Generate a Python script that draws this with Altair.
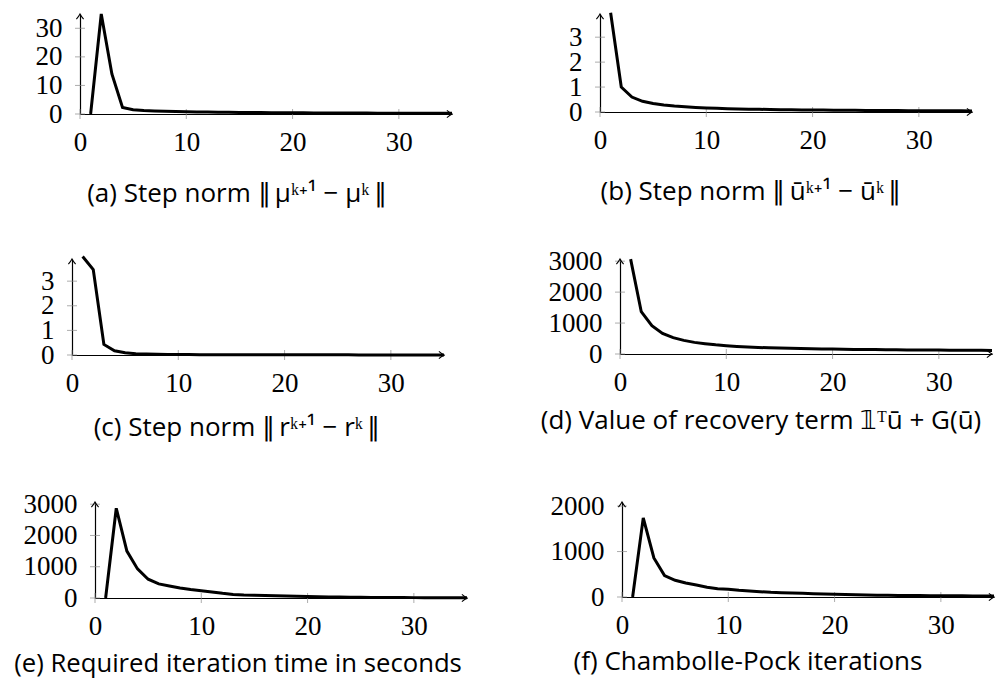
import altair as alt
import pandas as pd

# ---------------- data ----------------
ITER = list(range(1, 36))
X_TICKS = [0, 10, 20, 30]
X_MAX = 35

MU_STEP = [0, 35, 14, 2.3, 1.5, 1.2, 1.05, 0.95, 0.85, 0.78, 0.72, 0.66, 0.62, 0.58,
           0.55, 0.52, 0.49, 0.46, 0.44, 0.42, 0.40, 0.38, 0.36, 0.35, 0.33, 0.32,
           0.31, 0.30, 0.29, 0.28, 0.27, 0.26, 0.25, 0.25, 0.24]
UBAR_STEP = [3.98, 1.0, 0.6, 0.43, 0.34, 0.28, 0.24, 0.21, 0.185, 0.165, 0.15, 0.135,
             0.125, 0.115, 0.107, 0.10, 0.094, 0.089, 0.084, 0.08, 0.076, 0.072, 0.069,
             0.066, 0.063, 0.061, 0.058, 0.056, 0.054, 0.052, 0.05, 0.049, 0.047,
             0.046, 0.045]
R_STEP = [4.0, 3.47, 0.43, 0.17, 0.09, 0.055, 0.04, 0.03, 0.024, 0.02, 0.017, 0.015,
          0.013, 0.012, 0.011, 0.010, 0.009, 0.009, 0.008, 0.008, 0.007, 0.007, 0.007,
          0.006, 0.006, 0.006, 0.005, 0.005, 0.005, 0.005, 0.004, 0.004, 0.004,
          0.004, 0.004]
RECOVERY = [3065, 1366, 914, 667, 527, 441, 376, 333, 297, 269, 246, 226, 211, 200,
            190, 182, 175, 168, 163, 158, 153, 149, 145, 142, 139, 136, 133, 131, 128,
            126, 124, 122, 120, 118, 117]
ITER_TIME = [0, 2870, 1500, 930, 600, 450, 385, 320, 270, 235, 193, 150, 115, 96, 86,
             78, 75, 65, 55, 45, 40, 35, 31, 27, 23, 20, 18, 16, 14, 12, 10, 9, 8, 7, 6]
CP_ITERS = [0, 1740, 860, 470, 368, 309, 265, 213, 184, 169, 147, 132, 118, 103, 96,
            88, 81, 74, 66, 59, 55, 51, 46, 41, 37, 35, 33, 31, 30, 29, 27, 26, 24,
            23, 22]

CAPTIONS = [
    "(a) Step norm \u2225\u2009\u03bc\u1d4f\u207a\u00b9 \u2212 \u03bc\u1d4f\u2009\u2225",
    "(b) Step norm \u2225\u2009\u016b\u1d4f\u207a\u00b9 \u2212 \u016b\u1d4f\u2009\u2225",
    "(c) Step norm \u2225\u2009r\u1d4f\u207a\u00b9 \u2212 r\u1d4f\u2009\u2225",
    "(d) Value of recovery term \U0001D7D9\u1d40\u016b + G(\u016b)",
    "(e) Required iteration time in seconds",
    "(f) Chambolle-Pock iterations",
]

# ---------------- style ----------------
TICK_FONT = "Liberation Serif"
TICK_SIZE = 27
CAP_FONT = "Open Sans"
CAP_SIZE = 26
PLOT_W = 372


def panel(values, ymax, yticks, height, caption, dx, offset, cap_size=CAP_SIZE):
    df = pd.DataFrame({"x": ITER, "y": values})
    xs = alt.Scale(domain=[0, X_MAX], nice=False, zero=False)
    ys = alt.Scale(domain=[0, ymax], nice=False, zero=False)
    xaxis = alt.Axis(values=X_TICKS, ticks=False, grid=False, domainColor="black",
                     domainWidth=1.2, labelFont=TICK_FONT, labelFontSize=TICK_SIZE,
                     labelColor="black", labelPadding=15, title=None, format="d",
                     labelFlush=False, labelOverlap=False)
    yaxis = alt.Axis(values=yticks, ticks=False, grid=False, domainColor="black",
                     domainWidth=1.2, labelFont=TICK_FONT, labelFontSize=TICK_SIZE,
                     labelColor="black", labelPadding=18, title=None, format="d",
                     labelFlush=False, labelOverlap=False)
    ex = alt.X("x:Q", scale=xs, axis=xaxis)
    ey = alt.Y("y:Q", scale=ys, axis=yaxis)
    xt = alt.Chart(pd.DataFrame({"x": X_TICKS, "y": [0] * len(X_TICKS)})).mark_tick(
        orient="vertical", size=10, thickness=1, color="#8a8a8a"
    ).encode(x=ex, y=ey)
    yt = alt.Chart(pd.DataFrame({"x": [0] * len(yticks), "y": yticks})).mark_tick(
        orient="horizontal", size=10, thickness=1, color="#8a8a8a"
    ).encode(x=ex, y=ey)
    line = alt.Chart(df).mark_line(color="black", strokeWidth=3, clip=False).encode(
        x=ex, y=ey
    )
    arrow_path = "M -1.7 -1.2 Q -0.7 -0.35 0 0 Q -0.7 0.35 -1.7 1.2"
    xa = alt.Chart(pd.DataFrame({"x": [X_MAX], "y": [0]})).mark_point(
        shape=arrow_path, size=36, filled=False, color="black", strokeWidth=1.1, opacity=1
    ).encode(x=ex, y=ey)
    ya = alt.Chart(pd.DataFrame({"x": [0], "y": [ymax]})).mark_point(
        shape=arrow_path, size=36, filled=False, color="black", strokeWidth=1.1,
        opacity=1, angle=270
    ).encode(x=ex, y=ey)
    return alt.layer(xt, yt, line, xa, ya).properties(
        width=PLOT_W, height=height,
        title=alt.TitleParams(caption, orient="bottom", anchor="middle", frame="group",
                              dx=dx, offset=offset, font=CAP_FONT, fontSize=cap_size,
                              fontWeight="normal", color="black"),
    )


def spacer(w, h):
    return alt.Chart(pd.DataFrame({"v": [0]})).mark_point(opacity=0).encode(
        x=alt.X("v:Q", axis=None), y=alt.Y("v:Q", axis=None)
    ).properties(width=w, height=h)


pa = panel(MU_STEP, 35, [0, 10, 20, 30], 100, CAPTIONS[0], -29, 26)
pb = panel(UBAR_STEP, 3.93, [0, 1, 2, 3], 98, CAPTIONS[1], -35, 26)
pc = panel(R_STEP, 3.9, [0, 1, 2, 3], 96, CAPTIONS[2], -21, 19)
pd_ = panel(RECOVERY, 3070, [0, 1000, 2000, 3000], 95, CAPTIONS[3], -45, 13)
pe = panel(ITER_TIME, 3070, [0, 1000, 2000, 3000], 96, CAPTIONS[4], -43, 13, 25.7)
pf = panel(CP_ITERS, 2090, [0, 1000, 2000], 95, CAPTIONS[5], -60, 11)


def row(w1, p1, w2, p2, h):
    return alt.hconcat(spacer(w1, h), p1, spacer(w2, 10), p2, spacing=0, bounds="flush")


chart = alt.vconcat(
    row(80, pa, 148, pb, 213),
    row(72, pc, 176, pd_, 211),
    row(95, pe, 155, pf, 120),
    spacing=20,
).properties(
    padding={"left": 0, "top": 6, "right": 0, "bottom": 4},
    background="white",
).configure_view(stroke=None)

chart.save("out.html", embed_options={"renderer": "svg", "actions": False})
